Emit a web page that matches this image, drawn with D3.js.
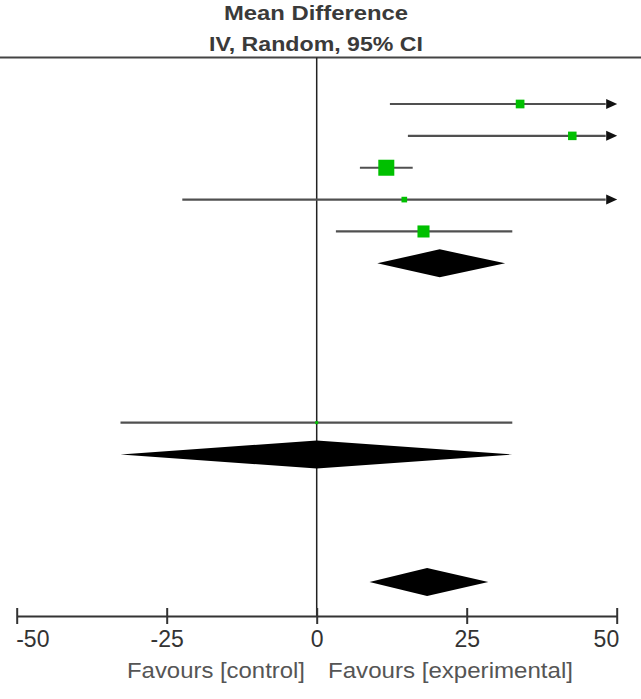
<!DOCTYPE html>
<html>
<head>
<meta charset="utf-8">
<script src="https://cdn.jsdelivr.net/npm/d3@7"></script>
<style>
  html, body { margin: 0; padding: 0; background: #fff; }
  svg { display: block; }
</style>
</head>
<body>
<div id="chart"></div>
<script>
// Forest plot: mean difference (IV, random effects, 95% CI)

// Individual studies: row slot, mean difference, CI bounds, weight (%)
const studyRow    = [0, 1, 2, 3, 4, 10];
const studyMD     = [33.9, 42.6, 11.6, 14.6, 17.8, 0.0];
const studyLower  = [12.2, 15.2, 7.2, -22.4, 3.2, -32.7];
const studyUpper  = [55.6, 70.0, 16.0, 51.6, 32.6, 32.6];
const studyWeight = [12.8, 12.3, 43.4, 5.4, 24.6, 1.5];

// Pooled estimates (subtotals and overall): row slot, estimate, CI bounds
const poolRow   = [5, 11, 15];
const poolMD    = [20.5, 0.0, 18.4];
const poolLower = [10.1, -32.7, 8.8];
const poolUpper = [31.4, 32.6, 28.6];

// Axis ticks and captions
const tickValues = [-50, -25, 0, 25, 50];
const headerLines = ["Mean Difference", "IV, Random, 95% CI"];
const favourLeft = "Favours [control]";
const favourRight = "Favours [experimental]";

const W = 641, H = 699;
const svg = d3.select("#chart").append("svg")
  .attr("width", W).attr("height", H)
  .style("background", "#fff");

const x = d3.scaleLinear().domain([-50, 50]).range([16.7, 616.7]);
const y = d3.scaleLinear().domain([0, 15]).range([104, 582]);
const side = d3.scaleSqrt().domain([0, 100]).range([0, 24.3]);

const axisY = 616;
const headerRule = 57.5;
const FONT = "Liberation Sans, Arial, sans-serif";

// Header
svg.append("text")
  .attr("x", 316).attr("y", 20)
  .attr("text-anchor", "middle")
  .attr("font-family", FONT)
  .attr("font-weight", "bold").attr("font-size", 20)
  .attr("fill", "#3a3a3a")
  .attr("textLength", 184).attr("lengthAdjust", "spacingAndGlyphs")
  .text(headerLines[0]);
svg.append("text")
  .attr("x", 316).attr("y", 51)
  .attr("text-anchor", "middle")
  .attr("font-family", FONT)
  .attr("font-weight", "bold").attr("font-size", 20)
  .attr("fill", "#3a3a3a")
  .attr("textLength", 214).attr("lengthAdjust", "spacingAndGlyphs")
  .text(headerLines[1]);

svg.append("line")
  .attr("x1", 0).attr("x2", W)
  .attr("y1", headerRule).attr("y2", headerRule)
  .attr("stroke", "#444").attr("stroke-width", 2);

// Line of no effect
svg.append("line")
  .attr("x1", x(0)).attr("x2", x(0))
  .attr("y1", headerRule).attr("y2", axisY)
  .attr("stroke", "#222").attr("stroke-width", 1.5);

// Study confidence intervals (clipped with an arrow beyond the axis range)
const [xmin, xmax] = x.domain();
const arrowLen = 11, arrowHalf = 5;
const studies = studyRow.map((r, i) => ({
  row: r, md: studyMD[i], lo: studyLower[i], hi: studyUpper[i], w: studyWeight[i]
}));

const g = svg.append("g");
studies.forEach(d => {
  const yy = y(d.row);
  const clipHi = d.hi > xmax, clipLo = d.lo < xmin;
  const x1 = clipLo ? x(xmin) + arrowLen : x(d.lo);
  const x2 = clipHi ? x(xmax) - arrowLen : x(d.hi);
  g.append("line")
    .attr("x1", x1).attr("x2", x2)
    .attr("y1", yy).attr("y2", yy)
    .attr("stroke", "#505050").attr("stroke-width", 2.2);
  if (clipHi) {
    const tip = x(xmax) + 0.5;
    g.append("path")
      .attr("d", `M${tip},${yy} L${tip - arrowLen},${yy - arrowHalf} L${tip - arrowLen},${yy + arrowHalf} Z`)
      .attr("fill", "#111");
  }
  if (clipLo) {
    const tip = x(xmin) - 0.5;
    g.append("path")
      .attr("d", `M${tip},${yy} L${tip + arrowLen},${yy - arrowHalf} L${tip + arrowLen},${yy + arrowHalf} Z`)
      .attr("fill", "#111");
  }
});

// Study point estimates, sized by weight
g.selectAll("rect.est")
  .data(studies)
  .join("rect")
  .attr("class", "est")
  .attr("x", d => x(d.md) - side(d.w) / 2)
  .attr("y", d => y(d.row) - side(d.w) / 2)
  .attr("width", d => side(d.w))
  .attr("height", d => side(d.w))
  .attr("fill", "#00c000");

// Pooled diamonds
const dh = 14;
const pools = poolRow.map((r, i) => ({ row: r, md: poolMD[i], lo: poolLower[i], hi: poolUpper[i] }));
svg.selectAll("path.diamond")
  .data(pools)
  .join("path")
  .attr("class", "diamond")
  .attr("d", d => {
    const yy = y(d.row);
    return `M${x(d.lo)},${yy} L${x(d.md)},${yy - dh} L${x(d.hi)},${yy} L${x(d.md)},${yy + dh} Z`;
  })
  .attr("fill", "#000");

// Axis
const axis = d3.axisBottom(x).tickValues(tickValues).tickSize(16).tickSizeOuter(0)
  .tickFormat(d => String(d));
const ax = svg.append("g").attr("transform", `translate(0,${axisY})`).call(axis);
ax.select(".domain").attr("stroke", "#333").attr("stroke-width", 2);
ax.selectAll(".tick line").attr("y1", -8).attr("y2", 8)
  .attr("stroke", "#333").attr("stroke-width", 2);
ax.selectAll(".tick text")
  .attr("y", 31).attr("dy", 0)
  .attr("font-family", FONT)
  .attr("font-size", 23)
  .attr("fill", "#333")
  .attr("text-anchor", d => d === xmin ? "start" : d === xmax ? "end" : "middle")
  .attr("transform", d => d === xmin ? "translate(-1,0)" : d === xmax ? "translate(2,0)" : null);

// Direction captions
svg.append("text")
  .attr("x", 305).attr("y", 678)
  .attr("text-anchor", "end")
  .attr("font-family", FONT)
  .attr("font-size", 21.5).attr("fill", "#555")
  .attr("textLength", 178).attr("lengthAdjust", "spacingAndGlyphs")
  .text(favourLeft);
svg.append("text")
  .attr("x", 328).attr("y", 678)
  .attr("text-anchor", "start")
  .attr("font-family", FONT)
  .attr("font-size", 21.5).attr("fill", "#555")
  .attr("textLength", 245).attr("lengthAdjust", "spacingAndGlyphs")
  .text(favourRight);
</script>
</body>
</html>
